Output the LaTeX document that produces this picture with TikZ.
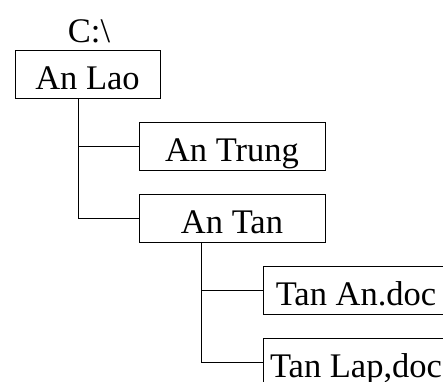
\documentclass[tikz,border=0pt]{standalone}
\usepackage{fontspec}
\setmainfont{Liberation Serif}
\usetikzlibrary{positioning}
\begin{document}
\begin{tikzpicture}[x=1pt, y=-1pt]
	\tikzstyle{folder} = [ draw, rectangle, line width=1pt, inner sep=0pt, outer sep=0pt, minimum width=186pt, minimum height=48pt, text height=32pt, text depth=2pt, font={\fontsize{34.5}{40}\selectfont}];
	\tikzstyle{drive} = [ inner sep=0pt, outer sep=0pt, text height=24pt, text depth=2pt, font={\fontsize{34.5}{40}\selectfont}];
	\tikzstyle{branch} = [ line width=1pt ];

	\useasboundingbox (0,0) rectangle (443,381);
	\clip (0,0) rectangle (443,381);

	\node[folder, minimum width=145pt] (lao) at (87.5,74) {An Lao};
	\node[drive, above=6pt of lao, xshift=1.5pt] (root) {C:\textbackslash};

	\node[folder] (trung) at (232,146) {An Trung};
	\node[folder] (tan) at (232,218) {An Tan};

	\node[folder] (tanan) at (356,290) {Tan An.doc};
	\node[folder] (tanlap) at (356,362) {Tan Lap,doc};

	% tree branches
	\foreach \child in {trung, tan} {
		\draw[branch] ([xshift=-9.5pt]lao.south) |- (\child.west);
	}
	\foreach \child in {tanan, tanlap} {
		\draw[branch] ([xshift=-31pt]tan.south) |- (\child.west);
	}
\end{tikzpicture}
\end{document}
